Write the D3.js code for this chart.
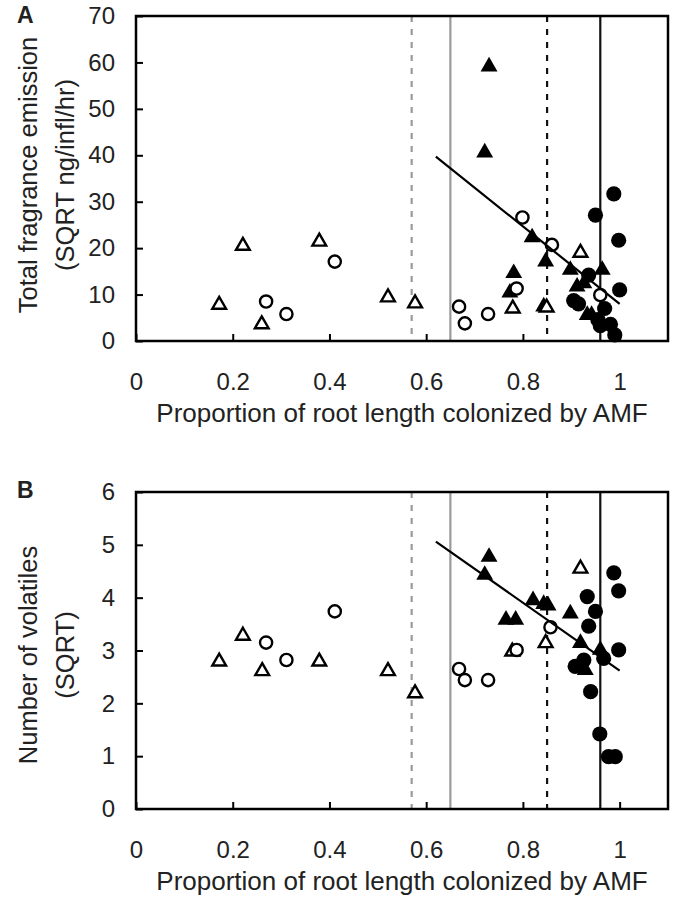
<!DOCTYPE html>
<html>
<head>
<meta charset="utf-8">
<script src="https://cdn.jsdelivr.net/npm/d3@7"></script>
<style>
    body { margin: 0; background: #fff; }
    text { font-family: "Liberation Sans", Arial, sans-serif; fill: #222; }
</style>
</head>
<body>
<div id="chart"></div>
<script>

// x axis (shared)
var xTicks = [0, 0.2, 0.4, 0.6, 0.8, 1];
var xTitle = "Proportion of root length colonized by AMF";

// reference lines: x, colour, dashed?
var refX = [0.57, 0.65, 0.85, 0.96];
var refColor = ["#9a9a9a", "#9a9a9a", "#111", "#111"];
var refDashed = [true, false, true, false];

// Panel A - total fragrance emission
var yTicksA = [0, 10, 20, 30, 40, 50, 60, 70];
var openTriA_x = [0.172, 0.221, 0.26, 0.379, 0.521, 0.577, 0.779, 0.849, 0.919];
var openTriA_y = [7.8, 20.5, 3.6, 21.4, 9.4, 8.1, 7.0, 7.2, 19.0];
var openCircA_x = [0.269, 0.311, 0.411, 0.668, 0.68, 0.728, 0.787, 0.799, 0.86, 0.96];
var openCircA_y = [8.5, 5.8, 17.1, 7.4, 3.8, 5.8, 11.3, 26.6, 20.7, 9.9];
var fillTriA_x = [0.73, 0.721, 0.819, 0.847, 0.781, 0.773, 0.843, 0.898, 0.964, 0.926, 0.912, 0.933, 0.942];
var fillTriA_y = [59.1, 40.6, 22.3, 17.1, 14.6, 10.4, 7.4, 15.3, 15.3, 12.4, 11.7, 5.6, 5.6];
var fillCircA_x = [0.988, 0.95, 0.998, 0.936, 1.0, 0.905, 0.915, 0.969, 0.955, 0.96, 0.981, 0.99];
var fillCircA_y = [31.7, 27.1, 21.7, 14.2, 11.0, 8.7, 8.0, 7.0, 4.6, 3.3, 3.6, 1.3];
var fitA_x = [0.62, 1.0];
var fitA_y = [39.7, 8.0];

// Panel B - number of volatiles
var yTicksB = [0, 1, 2, 3, 4, 5, 6];
var openTriB_x = [0.172, 0.221, 0.261, 0.379, 0.521, 0.577, 0.778, 0.847, 0.919];
var openTriB_y = [2.79, 3.28, 2.61, 2.79, 2.61, 2.19, 2.98, 3.14, 4.55];
var openCircB_x = [0.269, 0.311, 0.411, 0.668, 0.68, 0.728, 0.787, 0.857];
var openCircB_y = [3.15, 2.82, 3.74, 2.65, 2.44, 2.44, 3.01, 3.44];
var fillTriB_x = [0.73, 0.721, 0.765, 0.785, 0.821, 0.843, 0.852, 0.898, 0.919, 0.96, 0.929, 0.915];
var fillTriB_y = [4.77, 4.43, 3.58, 3.58, 3.95, 3.88, 3.85, 3.70, 3.14, 3.01, 2.63, 2.72];
var fillCircB_x = [0.988, 0.998, 0.933, 0.95, 0.936, 0.998, 0.967, 0.908, 0.926, 0.94, 0.959, 0.977, 0.991];
var fillCircB_y = [4.47, 4.13, 4.02, 3.74, 3.46, 3.01, 2.85, 2.70, 2.82, 2.22, 1.42, 0.99, 0.99];
var fitB_x = [0.62, 1.0];
var fitB_y = [5.06, 2.62];

function pairs(xs, ys) {
    return xs.map(function(d, i) { return {x: d, y: ys[i]}; });
}

var svg = d3.select("#chart").append("svg")
    .attr("width", 676)
    .attr("height", 905);

ScatterPanel = function(_svg, _opts) {
    this.svg = _svg;
    this.opts = _opts;
    this.initVis();
};

ScatterPanel.prototype.initVis = function() {
    var vis = this, o = vis.opts;

    vis.left = 136; vis.right = 668;

    vis.x = d3.scaleLinear().domain([0, 1.1]).range([vis.left, vis.right]);
    vis.y = d3.scaleLinear().domain([0, o.yMax]).range([o.bottom, o.top]);

    vis.g = vis.svg.append("g");

    // vertical reference lines
    vis.g.selectAll(".ref")
        .data(refX)
        .enter().append("line")
        .attr("x1", function(d) { return vis.x(d); })
        .attr("x2", function(d) { return vis.x(d); })
        .attr("y1", o.top)
        .attr("y2", o.bottom)
        .attr("stroke", function(d, i) { return refColor[i]; })
        .attr("stroke-width", 2.2)
        .attr("stroke-dasharray", function(d, i) { return refDashed[i] ? "6,7" : null; });

    var triFill = d3.symbol().type(d3.symbolTriangle).size(124);
    var triOpen = d3.symbol().type(d3.symbolTriangle).size(82);

    vis.g.selectAll(".fc")
        .data(o.fillCirc)
        .enter().append("circle")
        .attr("cx", function(d) { return vis.x(d.x); })
        .attr("cy", function(d) { return vis.y(d.y); })
        .attr("r", 7.6)
        .attr("fill", "#000");

    vis.g.selectAll(".ft")
        .data(o.fillTri)
        .enter().append("path")
        .attr("d", triFill)
        .attr("transform", function(d) { return "translate(" + vis.x(d.x) + "," + vis.y(d.y) + ")"; })
        .attr("fill", "#000");

    vis.g.selectAll(".ot")
        .data(o.openTri)
        .enter().append("path")
        .attr("d", triOpen)
        .attr("transform", function(d) { return "translate(" + vis.x(d.x) + "," + vis.y(d.y) + ")"; })
        .attr("fill", "#fff")
        .attr("stroke", "#000")
        .attr("stroke-width", 2.4);

    vis.g.selectAll(".oc")
        .data(o.openCirc)
        .enter().append("circle")
        .attr("cx", function(d) { return vis.x(d.x); })
        .attr("cy", function(d) { return vis.y(d.y); })
        .attr("r", 6.1)
        .attr("fill", "#fff")
        .attr("stroke", "#000")
        .attr("stroke-width", 2.4);

    // regression line
    vis.g.append("path")
        .datum(o.fit)
        .attr("d", d3.line().x(function(d) { return vis.x(d.x); }).y(function(d) { return vis.y(d.y); }))
        .attr("stroke", "#000")
        .attr("stroke-width", 2.2)
        .attr("fill", "none");

    // frame
    vis.g.append("rect")
        .attr("x", vis.left)
        .attr("y", o.top)
        .attr("width", vis.right - vis.left)
        .attr("height", o.bottom - o.top)
        .attr("fill", "none")
        .attr("stroke", "#000")
        .attr("stroke-width", 2.5);

    // axes
    var xAxis = d3.axisBottom(vis.x).tickValues(xTicks).tickSize(-7).tickPadding(32).tickFormat(d3.format(""));
    var yAxis = d3.axisLeft(vis.y).tickValues(o.yTicks).tickSize(-7).tickPadding(21).tickFormat(d3.format(""));

    var gx = vis.g.append("g")
        .attr("transform", "translate(0," + o.bottom + ")")
        .call(xAxis);
    var gy = vis.g.append("g")
        .attr("transform", "translate(" + vis.left + ",0)")
        .call(yAxis);

    [gx, gy].forEach(function(a) {
        a.select(".domain").remove();
        a.selectAll("line").attr("stroke", "#000").attr("stroke-width", 2);
        a.selectAll("text")
            .style("font-family", "'Liberation Sans', Arial, sans-serif")
            .style("font-size", "24px")
            .attr("fill", "#222");
    });

    // x title
    vis.g.append("text")
        .attr("x", 402)
        .attr("y", o.xTitleY)
        .attr("text-anchor", "middle")
        .style("font-size", "26px")
        .text(xTitle);

    // y title (two lines)
    o.yTitle.forEach(function(t, i) {
        vis.g.append("text")
            .attr("transform", "translate(" + (37 + i * 37) + "," + o.yTitleMid + ") rotate(-90)")
            .attr("text-anchor", "middle")
            .style("font-size", "25.5px")
            .text(t);
    });

    // panel letter
    vis.g.append("text")
        .attr("x", 17)
        .attr("y", o.letterY)
        .style("font-size", "23px")
        .style("font-weight", "bold")
        .text(o.letter);
};

var panelA = new ScatterPanel(svg, {
    top: 16, bottom: 341, yMax: 70, yTicks: yTicksA,
    openTri: pairs(openTriA_x, openTriA_y),
    openCirc: pairs(openCircA_x, openCircA_y),
    fillTri: pairs(fillTriA_x, fillTriA_y),
    fillCirc: pairs(fillCircA_x, fillCircA_y),
    fit: pairs(fitA_x, fitA_y),
    xTitleY: 422, yTitleMid: 175,
    yTitle: ["Total fragrance emission", "(SQRT ng/infl/hr)"],
    letter: "A", letterY: 23
});

var panelB = new ScatterPanel(svg, {
    top: 492, bottom: 809, yMax: 6, yTicks: yTicksB,
    openTri: pairs(openTriB_x, openTriB_y),
    openCirc: pairs(openCircB_x, openCircB_y),
    fillTri: pairs(fillTriB_x, fillTriB_y),
    fillCirc: pairs(fillCircB_x, fillCircB_y),
    fit: pairs(fitB_x, fitB_y),
    xTitleY: 890, yTitleMid: 655,
    yTitle: ["Number of volatiles", "(SQRT)"],
    letter: "B", letterY: 498
});

</script>
</body>
</html>
